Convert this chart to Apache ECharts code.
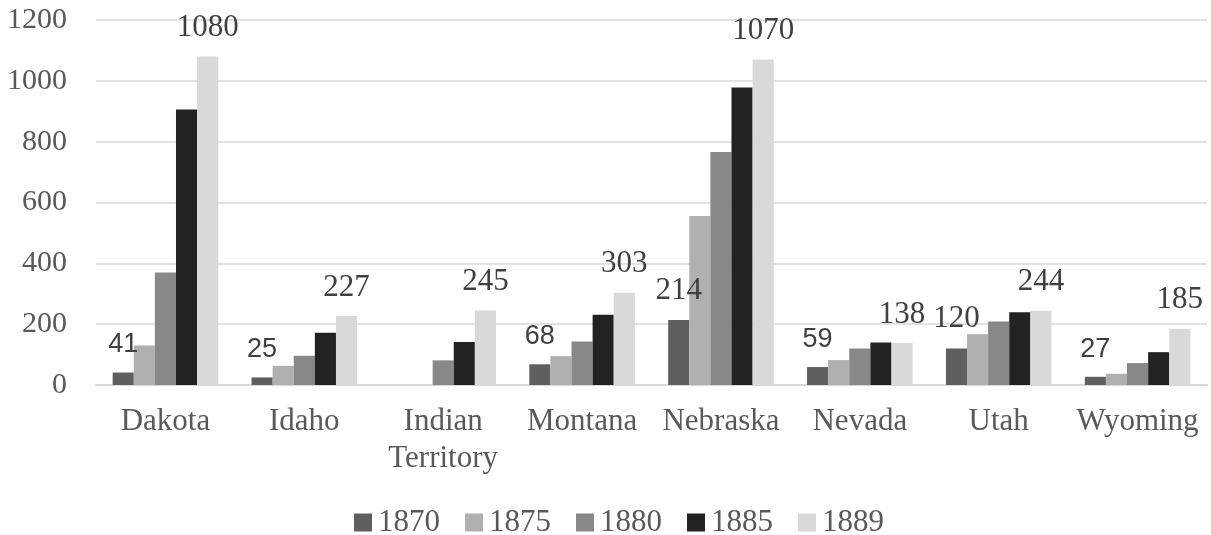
<!DOCTYPE html>
<html>
<head>
<meta charset="utf-8">
<script src="https://cdn.jsdelivr.net/npm/echarts@6/dist/echarts.min.js"></script>
<style>html,body{margin:0;padding:0;background:#fff}#c{width:1211px;height:535px}</style>
</head>
<body>
<div id="c"></div>
<script>
const categories = ['Dakota', 'Idaho', 'Indian\nTerritory', 'Montana', 'Nebraska', 'Nevada', 'Utah', 'Wyoming'];
const years = ['1870', '1875', '1880', '1885', '1889'];
const v1870 = [41, 25, null, 68, 214, 59, 120, 27];
const v1875 = [130, 63, null, 95, 556, 82, 167, 37];
const v1880 = [370, 96, 81, 143, 766, 120, 209, 72];
const v1885 = [906, 172, 141, 231, 978, 140, 239, 108];
const v1889 = [1080, 227, 245, 303, 1070, 138, 244, 185];
const yTicks = [0, 200, 400, 600, 800, 1000, 1200];

const colors = ['#5f5f5f', '#b0b0b0', '#888888', '#222222', '#d9d9d9'];
const serif = '"Liberation Serif", "Times New Roman", serif';
const sans = '"Liberation Sans", Arial, sans-serif';
// labels of 1870 that are set in the serif face in the reference
const serifLabelCats = ['Nebraska', 'Utah'];

const allValues = [v1870, v1875, v1880, v1885, v1889];

const series = allValues.map((vals, i) => {
  const s = {
    name: years[i],
    type: 'bar',
    data: vals,
    barGap: '0%',
    barCategoryGap: '24%',
    itemStyle: { color: colors[i] },
    emphasis: { disabled: true }
  };
  if (i === 0) {
    s.label = {
      show: true, position: 'top', distance: 14,
      formatter: p => serifLabelCats.includes(categories[p.dataIndex]) ? '{s|' + p.value + '}' : '{a|' + p.value + '}',
      rich: {
        a: { fontFamily: sans, fontSize: 27, color: '#404040' },
        s: { fontFamily: serif, fontSize: 31, color: '#404040' }
      }
    };
  }
  if (i === 4) {
    s.label = {
      show: true, position: 'top', distance: 13,
      fontFamily: serif, fontSize: 31, color: '#404040'
    };
  }
  return s;
});

const chart = echarts.init(document.getElementById('c'), null, { renderer: 'canvas' });
chart.setOption({
  animation: false,
  backgroundColor: '#ffffff',
  color: colors,
  grid: { left: 96, right: 4, top: 20, bottom: 150, containLabel: false },
  legend: {
    data: years,
    left: 349,
    top: 502,
    icon: 'rect',
    itemWidth: 18,
    itemHeight: 18,
    itemGap: 25,
    textStyle: { fontFamily: serif, fontSize: 31, color: '#595959', padding: [0, 0, 0, 1] }
  },
  xAxis: {
    type: 'category',
    data: categories,
    axisLine: { lineStyle: { color: '#d9d9d9', width: 2 } },
    axisTick: { show: false },
    axisLabel: { fontFamily: serif, fontSize: 31, color: '#595959', margin: 18, lineHeight: 37, interval: 0 }
  },
  yAxis: {
    type: 'value',
    min: yTicks[0],
    max: yTicks[yTicks.length - 1],
    interval: yTicks[1] - yTicks[0],
    axisLine: { show: false },
    axisTick: { show: false },
    splitLine: { lineStyle: { color: '#d9d9d9', width: 1.5 } },
    axisLabel: { fontFamily: serif, fontSize: 30, color: '#595959', margin: 29, formatter: v => String(v) }
  },
  series: series
});
</script>
</body>
</html>
